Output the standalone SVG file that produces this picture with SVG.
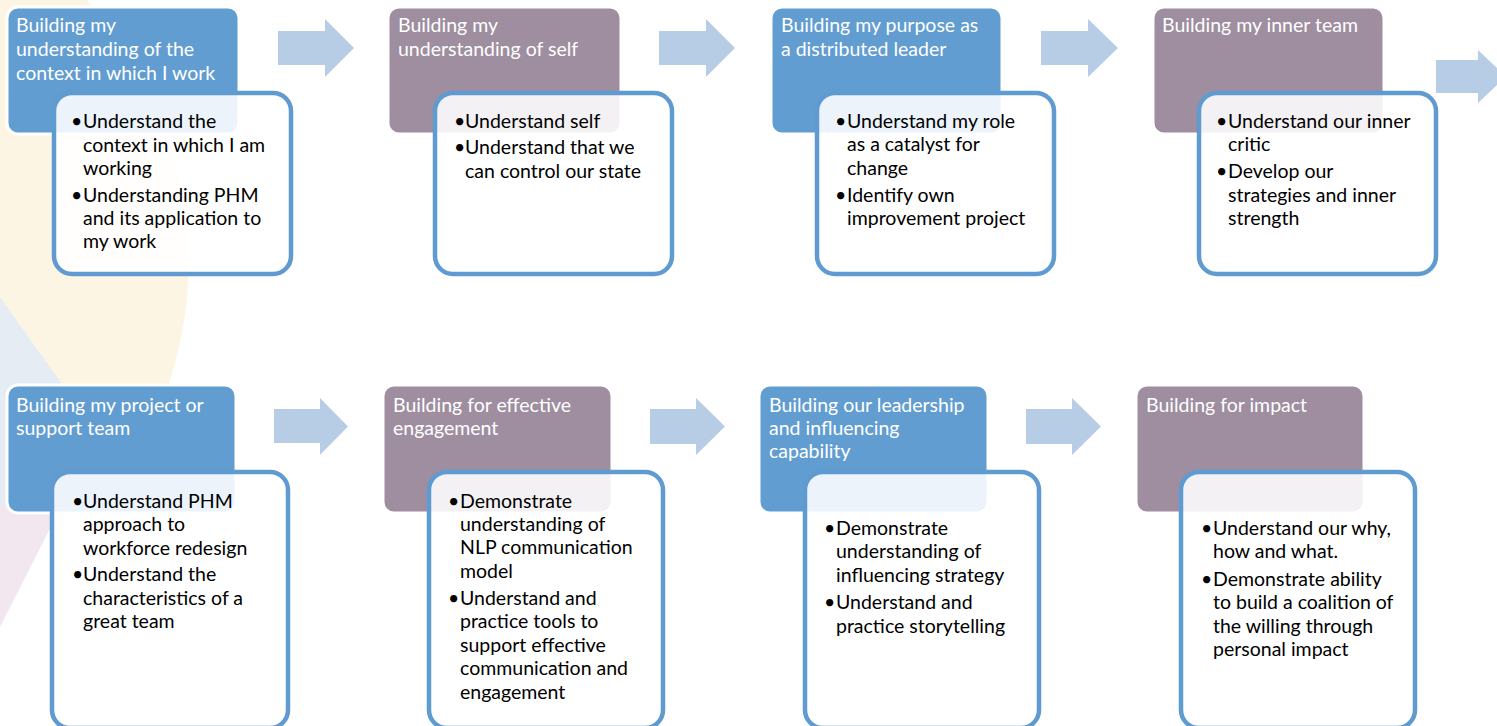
<svg xmlns="http://www.w3.org/2000/svg" width="1497" height="726" viewBox="0 0 1497 726">
<style>
.bg{stroke:none}
.tb{fill:#629DD1;stroke:#FFFFFF;stroke-width:3}
.tp{fill:#9E8E9F;stroke:#FFFFFF;stroke-width:3}
.bb{fill:#FFFFFF;fill-opacity:0.88;stroke:#5F9BD0;stroke-width:4.5}
.tt{font-family:Lato,"Liberation Sans",sans-serif;font-size:19.5px;fill:#FFFFFF}
.bt{font-family:Lato,"Liberation Sans",sans-serif;font-size:19.5px;fill:#000000}
.ar{fill:#B7CDE6}
</style>
<rect width="1497" height="726" fill="#FFFFFF"/>
<g id="background">
<path class="bg" fill="#FDF5E3" d="M0,0 L87,0 A387,387 0 0 1 150,430 L95,430 L0,297 Z"/>
<path class="bg" fill="#E6ECF3" d="M0,297 L95,430 L60,510 L0,510 Z"/>
<path class="bg" fill="#F3E7EF" d="M0,505 L62,505 L0,627 Z"/>
</g>
<g id="connectors">
<polygon class="ar" points="278,31 325,31 325,19 354,48 325,77 325,65 278,65"/>
<polygon class="ar" points="659,31 706,31 706,19 735,48 706,77 706,65 659,65"/>
<polygon class="ar" points="1041,31 1088,31 1088,19 1118,48 1088,77 1088,65 1041,65"/>
<polygon class="ar" points="1436,60 1478,60 1478,50 1506,76.5 1478,103 1478,93 1436,93"/>
<polygon class="ar" points="274,409 320,409 320,398 348,426.5 320,455 320,443 274,443"/>
<polygon class="ar" points="650,409 696,409 696,398 725,426.5 696,455 696,444 650,444"/>
<polygon class="ar" points="1026,409 1072,409 1072,398 1101,426.5 1072,455 1072,444 1026,444"/>
</g>
<g id="node1">
<rect class="tb" x="7" y="7" width="232" height="127" rx="11"/>
<text class="tt"><tspan x="16" y="32">Building my</tspan><tspan x="16" y="56">understanding of the</tspan><tspan x="16" y="80">context in which I work</tspan></text>
<rect class="bb" x="54" y="93" width="237" height="181" rx="18"/>
<text class="bt"><tspan x="71" y="128">•</tspan><tspan x="83" y="128">Understand the</tspan><tspan x="83" y="152">context in which I am</tspan><tspan x="83" y="175">working</tspan><tspan x="71" y="202">•</tspan><tspan x="83" y="202">Understanding PHM</tspan><tspan x="83" y="225">and its application to</tspan><tspan x="83" y="248">my work</tspan></text>
</g>
<g id="node2">
<rect class="tp" x="388" y="7" width="233" height="127" rx="11"/>
<text class="tt"><tspan x="398" y="32">Building my</tspan><tspan x="398" y="56">understanding of self</tspan></text>
<rect class="bb" x="435" y="93" width="237" height="181" rx="18"/>
<text class="bt"><tspan x="454" y="128">•</tspan><tspan x="465" y="128">Understand self</tspan><tspan x="454" y="154">•</tspan><tspan x="465" y="154">Understand that we</tspan><tspan x="465" y="178">can control our state</tspan></text>
</g>
<g id="node3">
<rect class="tb" x="771" y="7" width="231" height="127" rx="11"/>
<text class="tt"><tspan x="781" y="32">Building my purpose as</tspan><tspan x="781" y="56">a distributed leader</tspan></text>
<rect class="bb" x="817" y="93" width="237" height="181" rx="18"/>
<text class="bt"><tspan x="835" y="128">•</tspan><tspan x="847" y="128">Understand my role</tspan><tspan x="847" y="151">as a catalyst for</tspan><tspan x="847" y="175">change</tspan><tspan x="835" y="202">•</tspan><tspan x="847" y="202">Identify own</tspan><tspan x="847" y="225">improvement project</tspan></text>
</g>
<g id="node4">
<rect class="tp" x="1153" y="7" width="231" height="127" rx="11"/>
<text class="tt"><tspan x="1162" y="32">Building my inner team</tspan></text>
<rect class="bb" x="1199" y="93" width="237" height="181" rx="18"/>
<text class="bt"><tspan x="1216" y="128">•</tspan><tspan x="1228" y="128">Understand our inner</tspan><tspan x="1228" y="151">critic</tspan><tspan x="1216" y="178">•</tspan><tspan x="1228" y="178">Develop our</tspan><tspan x="1228" y="202">strategies and inner</tspan><tspan x="1228" y="225">strength</tspan></text>
</g>
<g id="node5">
<rect class="tb" x="7" y="385" width="229" height="128" rx="11"/>
<text class="tt"><tspan x="16" y="412">Building my project or</tspan><tspan x="16" y="435">support team</tspan></text>
<rect class="bb" x="52" y="472" width="236" height="256" rx="18"/>
<text class="bt"><tspan x="72" y="508">•</tspan><tspan x="83" y="508">Understand PHM</tspan><tspan x="83" y="531">approach to</tspan><tspan x="83" y="555">workforce redesign</tspan><tspan x="72" y="581">•</tspan><tspan x="83" y="581">Understand the</tspan><tspan x="83" y="605">characteristics of a</tspan><tspan x="83" y="628">great team</tspan></text>
</g>
<g id="node6">
<rect class="tp" x="383" y="385" width="229" height="128" rx="11"/>
<text class="tt"><tspan x="393" y="412">Building for effective</tspan><tspan x="393" y="435">engagement</tspan></text>
<rect class="bb" x="429" y="472" width="234" height="256" rx="18"/>
<text class="bt"><tspan x="448" y="508">•</tspan><tspan x="460" y="508">Demonstrate</tspan><tspan x="460" y="531">understanding of</tspan><tspan x="460" y="554">NLP communication</tspan><tspan x="460" y="578">model</tspan><tspan x="448" y="605">•</tspan><tspan x="460" y="605">Understand and</tspan><tspan x="460" y="628">practice tools to</tspan><tspan x="460" y="652">support effective</tspan><tspan x="460" y="675">communication and</tspan><tspan x="460" y="699">engagement</tspan></text>
</g>
<g id="node7">
<rect class="tb" x="759" y="385" width="229" height="128" rx="11"/>
<text class="tt"><tspan x="769" y="412">Building our leadership</tspan><tspan x="769" y="435">and influencing</tspan><tspan x="769" y="458">capability</tspan></text>
<rect class="bb" x="805" y="472" width="234" height="256" rx="18"/>
<text class="bt"><tspan x="824" y="535">•</tspan><tspan x="836" y="535">Demonstrate</tspan><tspan x="836" y="558">understanding of</tspan><tspan x="836" y="582">influencing strategy</tspan><tspan x="824" y="609">•</tspan><tspan x="836" y="609">Understand and</tspan><tspan x="836" y="633">practice storytelling</tspan></text>
</g>
<g id="node8">
<rect class="tp" x="1136" y="385" width="228" height="128" rx="11"/>
<text class="tt"><tspan x="1146" y="412">Building for impact</tspan></text>
<rect class="bb" x="1181" y="472" width="234" height="256" rx="18"/>
<text class="bt"><tspan x="1201" y="535">•</tspan><tspan x="1213" y="535">Understand our why,</tspan><tspan x="1213" y="558">how and what.</tspan><tspan x="1201" y="586">•</tspan><tspan x="1213" y="586">Demonstrate ability</tspan><tspan x="1213" y="609">to build a coalition of</tspan><tspan x="1213" y="633">the willing through</tspan><tspan x="1213" y="656">personal impact</tspan></text>
</g>
</svg>
